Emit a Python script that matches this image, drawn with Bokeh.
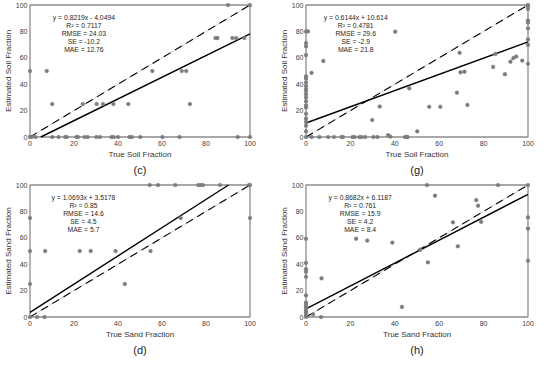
from bokeh.plotting import figure
from bokeh.models import Range1d, Label, Title, FixedTicker
from bokeh.layouts import gridplot
from bokeh.embed import file_html
from bokeh.resources import INLINE

# ---------------- data ----------------
TICKS = [0, 20, 40, 60, 80, 100]
AX_MIN, AX_MAX = 0, 100

# (c) soil
c_x = [0, 0.7, 2.5, 10.1, 13, 16, 16.7, 21.1, 21.8, 24.8, 26.2, 30.2, 31.8, 37, 38, 40,
       45.2, 46.3, 50.1, 60.2, 68, 94.4, 100,
       0, 7.6, 10.1, 24, 30.3, 33.2, 37.9, 44.7, 55.6, 69, 71, 72.7,
       84.3, 85.2, 92, 93.7, 97.4, 90, 100]
c_y = [0] * 23 + [50, 50, 25, 25, 25, 25, 25, 25, 50, 50, 50, 25,
                  75, 75, 75, 75, 75, 100, 100]
c_fit = (0.8219, -4.0494)
c_stats = ["y = 0.8219x - 4.0494", "R² = 0.7117", "RMSE = 24.03", "SE = -10.2", "MAE = 12.76"]

# (g) soil
g_x = [0] * 21 + [0.9, 2.5, 7.8, 40.2, 46.5, 33.2, 29.8, 37, 38, 50.1, 55.5, 60.5, 68, 69.2,
                  69.6, 71.4, 72.7, 84.3, 85.3, 89.6, 92.1, 93.4, 94.7, 97.4,
                  100, 100, 100, 100, 100, 100, 100, 100, 100,
                  2.5, 6, 10, 12.6, 16, 16.6, 21, 21.9, 24.1, 25, 26.6, 30.4, 32.2,
                  44.6, 45.4, 45.7]
g_y = [80, 71.2, 68.8, 62.1, 46, 44.3, 41.4, 38.8, 36.4, 34.8, 32.4, 30, 27.1, 24, 22.4,
       17.6, 14, 11.4, 8.6, 4.3, 0,
       80, 48.6, 57.6, 79.8, 36.9, 23.1, 12.9, 1.4, 0.3, 4.3, 22.9, 22.9, 33.6, 63.8,
       49, 49.5, 24.3, 53.1, 62.9, 47.6, 57.1, 59.8, 61, 57.9,
       99.5, 97.1, 88.3, 86.7, 82.4, 74, 69.8, 55.5, 100] + [0] * 16
g_fit = (0.6144, 10.614)
g_stats = ["y = 0.6144x + 10.614", "R² = 0.4781", "RMSE = 29.6", "SE = -2.9", "MAE = 21.8"]

# (d) sand
d_x = [0, 0, 0, 0, 3.2, 6.6, 6.9, 22.6, 27.6, 38.9, 43.1, 54.8, 68.5,
       54.4, 58.2, 66, 76.5, 77.6, 78.6, 86.4, 99.6, 100, 100]
d_y = [75, 50, 25, 0, 0, 0, 50, 50, 50, 50, 25, 50, 75,
       100, 100, 100, 100, 100, 100, 100, 100, 100, 75]
d_fit = (1.0693, 3.5178)
d_stats = ["y = 1.0693x + 3.5178", "R² = 0.85", "RMSE = 14.6", "SE = 4.5", "MAE = 5.7"]

# (h) sand
h_x = [0] * 14 + [3.2, 6.8, 7, 22.6, 27.6, 38.9, 43.2, 51.5, 54.5, 54.9, 58.1, 66.2, 68.4,
                  76.7, 77.5, 78.9, 86.5, 100, 100, 100, 100]
h_y = [59.3, 41, 36.2, 34.3, 30.5, 16.4, 11, 9.3, 7.6, 6.2, 4.5, 3.3, 1.4, 0,
       2.1, 0, 29.3, 59.3, 57.9, 56.4, 7.6, 51, 100, 41.4, 91.9, 71.7, 53.6,
       88.6, 84.3, 72.1, 100, 100, 75.5, 67.1, 42.6]
h_fit = (0.8682, 6.1187)
h_stats = ["y = 0.8682x + 6.1187", "R² = 0.761", "RMSE = 15.9", "SE = 4.2", "MAE = 8.4"]

STAT_X = [24.5, 22.4, 24.3, 24.4]

# ---------------- style ----------------
FONT = "Liberation Sans"
BOX_COLOR = "#8c8c8c"
PT_COLOR = "#7c7c7c"
LABEL_COLOR = "#404040"
PAD_PX = 2.5
FRAME_H = 137
BORDER_TOP = 2
BORDER_BOTTOM = 41


def clip_fit(m, b):
    x0 = AX_MIN
    if m * x0 + b < AX_MIN:
        x0 = (AX_MIN - b) / m
    x1 = AX_MAX
    if m * x1 + b > AX_MAX:
        x1 = (AX_MAX - b) / m
    return [x0, x1], [m * x0 + b, m * x1 + b]


def make_panel(xs, ys, fit, stats, stat_x, xlabel, ylabel, tag, frame_w, bl, br):
    span = AX_MAX - AX_MIN
    px_x = (frame_w - 2 * PAD_PX) / span
    px_y = (FRAME_H - 2 * PAD_PX) / span
    padx = PAD_PX / px_x
    pady = PAD_PX / px_y
    p = figure(frame_width=frame_w, frame_height=FRAME_H,
               output_backend="svg", toolbar_location=None,
               x_range=Range1d(AX_MIN - padx, AX_MAX + padx),
               y_range=Range1d(AX_MIN - pady, AX_MAX + pady),
               min_border_left=bl, min_border_right=br,
               min_border_top=BORDER_TOP, min_border_bottom=BORDER_BOTTOM)
    p.outline_line_color = None
    p.grid.visible = False
    p.background_fill_color = "white"
    p.border_fill_color = "white"

    for ax in (p.xaxis[0], p.yaxis[0]):
        ax.ticker = FixedTicker(ticks=TICKS)
        ax.axis_line_color = None
        ax.major_tick_line_color = None
        ax.minor_tick_line_color = None
        ax.major_tick_out = 0
        ax.major_tick_in = 0
        ax.major_label_text_font = FONT
        ax.major_label_text_font_size = "7px"
        ax.major_label_text_color = LABEL_COLOR
        ax.axis_label_text_font = FONT
        ax.axis_label_text_font_size = "8px"
        ax.axis_label_text_font_style = "normal"
        ax.axis_label_text_color = "#333333"
    p.xaxis.axis_label = xlabel
    p.yaxis.axis_label = ylabel
    p.xaxis.major_label_standoff = 1
    p.yaxis.major_label_standoff = 0
    p.xaxis.axis_label_standoff = 1
    p.yaxis.axis_label_standoff = 0

    p.add_layout(Title(text=tag, align="center", text_font=FONT, text_font_size="11px",
                       text_font_style="normal", text_color="#222222", standoff=0), "below")

    p.quad(left=[AX_MIN], right=[AX_MAX], bottom=[AX_MIN], top=[AX_MAX],
           fill_color=None, line_color=BOX_COLOR, line_width=1.3)
    p.line([AX_MIN, AX_MAX], [AX_MIN, AX_MAX], line_color="#d4d4d4", line_width=1)
    p.line([AX_MIN, AX_MAX], [AX_MIN, AX_MAX], line_color="black", line_width=1.1,
           line_dash="8 5")
    fx, fy = clip_fit(*fit)
    p.line(fx, fy, line_color="black", line_width=1.4)
    p.scatter(xs, ys, size=3.7, fill_color=PT_COLOR, line_color=PT_COLOR, line_width=0.5)

    top_y = AX_MAX - 12.9 / px_y
    for i, s in enumerate(stats):
        p.add_layout(Label(x=stat_x, y=top_y, y_offset=-7.9 * i, text=s,
                           text_font=FONT, text_font_size="6.8px", text_color="#262626",
                           text_align="center", text_baseline="middle"))
    return p


# left column: border 27 + frame 225 + 13 = 265 ; right column: 38 + 227 + 4 = 269
LFW, LBL, LBR = 225, 27, 13
RFW, RBL, RBR = 227, 38, 4

p1 = make_panel(c_x, c_y, c_fit, c_stats, STAT_X[0], "True Soil Fraction",
                "Estimated Soil Fraction", "(c)", LFW, LBL, LBR)
p2 = make_panel(g_x, g_y, g_fit, g_stats, STAT_X[1], "True Soil Fraction",
                "Estimated Soil Fraction", "(g)", RFW, RBL, RBR)
p3 = make_panel(d_x, d_y, d_fit, d_stats, STAT_X[2], "True Sand Fraction",
                "Estimated Sand Fraction", "(d)", LFW, LBL, LBR)
p4 = make_panel(h_x, h_y, h_fit, h_stats, STAT_X[3], "True Sand Fraction",
                "Estimated Sand Fraction", "(h)", RFW, RBL, RBR)

grid = gridplot([[p1, p2], [p3, p4]], toolbar_location=None)

open("out.html", "w").write(file_html(grid, INLINE))
